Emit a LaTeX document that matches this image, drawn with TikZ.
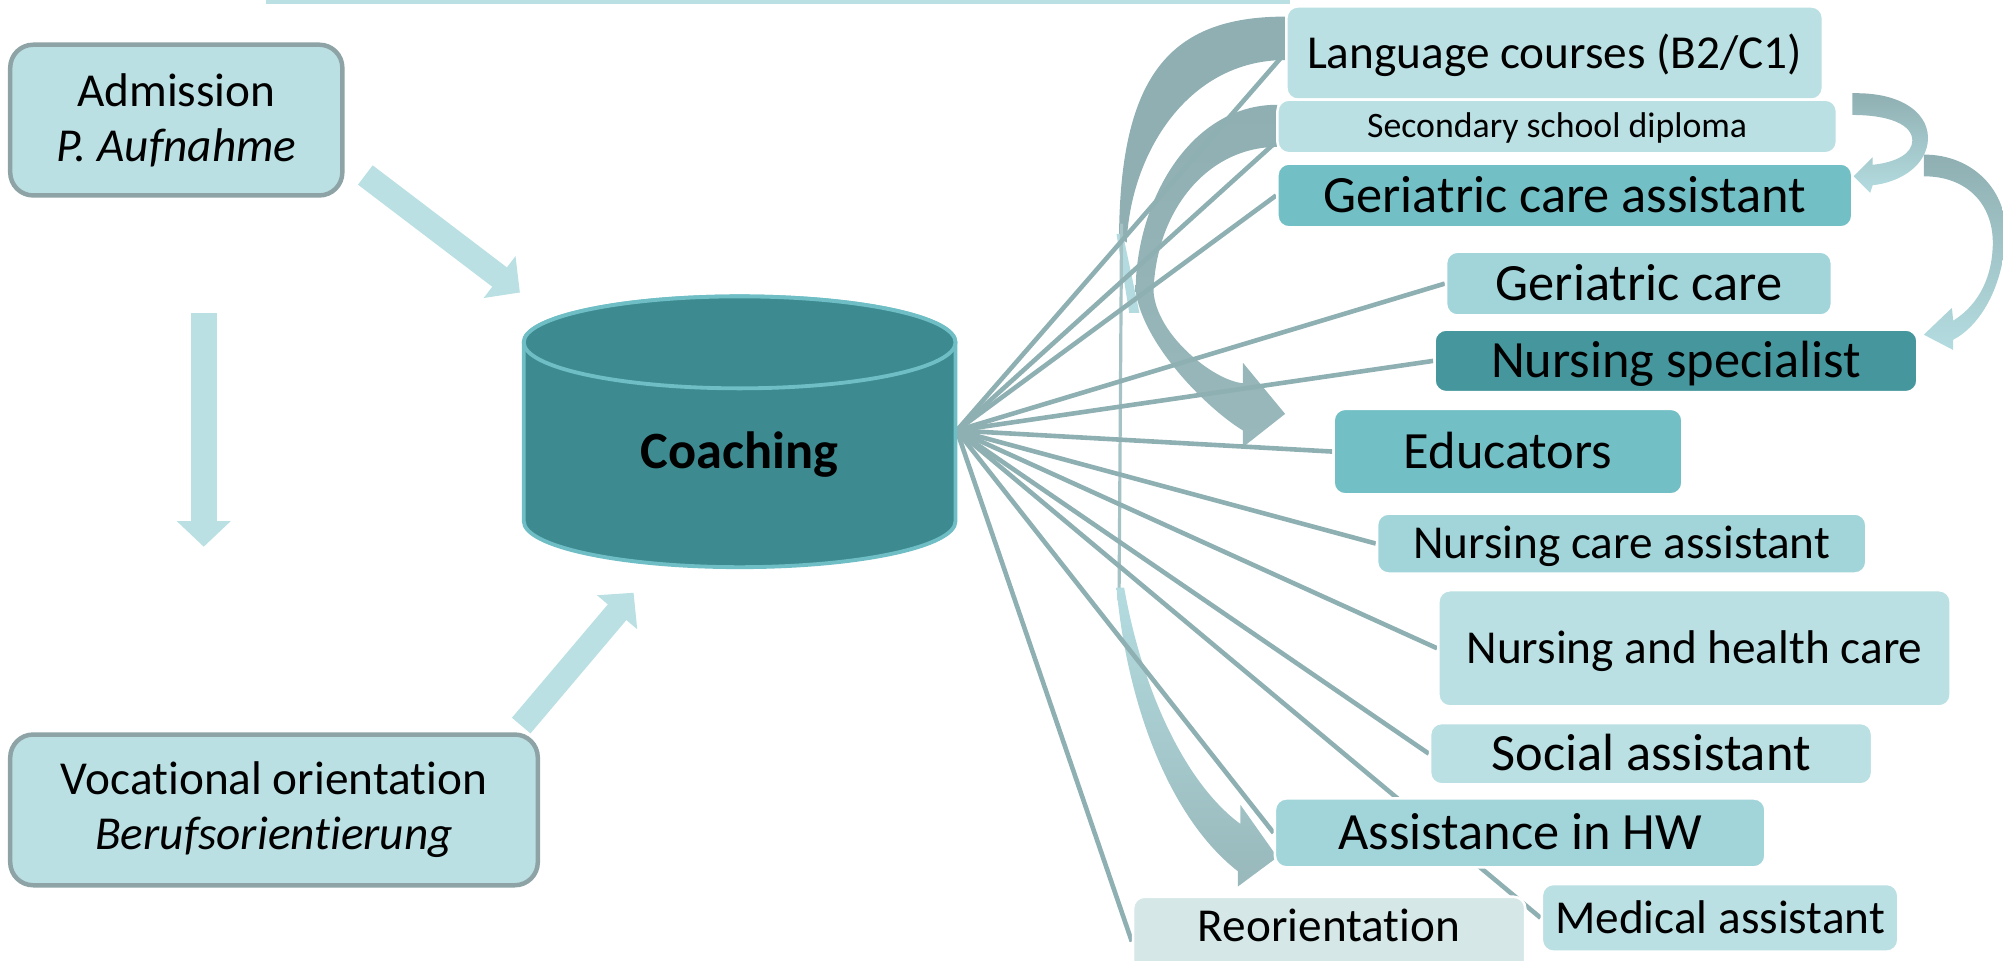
\documentclass[tikz,border=0pt]{standalone}
\usepackage{fontspec}
\setmainfont{Carlito}[Ligatures={NoCommon,NoContextual}]
\usetikzlibrary{arrows.meta,calc}
\definecolor{Lone}{HTML}{BAE0E3}
\definecolor{Ltwo}{HTML}{A2D5DA}
\definecolor{Midc}{HTML}{72BFC5}
\definecolor{Darkc}{HTML}{46979D}
\definecolor{Reoc}{HTML}{D5E7E6}
\definecolor{Cylf}{HTML}{3D8B91}
\definecolor{Cylb}{HTML}{6FBEC5}
\definecolor{Connc}{HTML}{8FB0B3}
\definecolor{Gbord}{HTML}{8DA3A5}
\definecolor{ArrD}{HTML}{8FAFB2}
\definecolor{ArrL}{HTML}{B4DCE0}
\definecolor{ArrG}{HTML}{98B8BB}
\definecolor{ArrT}{HTML}{A5C2C5}
\pgfdeclarelayer{bg}
\pgfdeclarelayer{mid}
\pgfsetlayers{bg,mid,main}
\begin{document}
\begin{tikzpicture}[x=1pt,y=-1pt,
  tbox/.style={rounded corners=9pt, draw=white, line width=2pt, inner sep=0pt, text depth=0pt},
  fa/.style={font=\fontsize{37}{44}\selectfont, text height=23.8pt},
  fb/.style={font=\fontsize{41}{48}\selectfont, text height=26.4pt},
  fs/.style={font=\fontsize{28}{34}\selectfont, text height=18pt},
  leftbox/.style={rounded corners=18pt, draw=Gbord, line width=3.5pt, fill=Lone, align=center,
    font=\fontsize{37}{43}\selectfont, inner sep=0pt},
  conn/.style={draw=Connc, line width=3.6pt},
  blk/.style={draw=Lone, line width=19pt, -{Triangle[length=20pt,width=40pt]}},
  cyl/.style={fill=Cylf, draw=Cylb, line width=3pt}
]
\useasboundingbox (0,0) rectangle (1568,752);

% top strip
\fill[Lone] (208,0) rectangle (1010,3);

% target boxes
\node[tbox,fa,fill=Lone,minimum width=420,minimum height=73] (lang) at (1217,41.5) {Language courses (B2/C1)};
\node[tbox,fs,fill=Lone,minimum width=438,minimum height=42] (sec) at (1219,99) {Secondary school diploma};
\node[tbox,fb,fill=Midc,minimum width=450,minimum height=50] (gca) at (1225,153) {Geriatric care assistant};
\node[tbox,fb,fill=Ltwo,minimum width=302,minimum height=50] (gc) at (1283,222) {Geriatric care};
\node[tbox,fb,fill=Darkc,minimum width=378,minimum height=49] (ns) at (1312,282.5) {Nursing specialist};
\node[tbox,fb,fill=Midc,minimum width=273,minimum height=67] (edu) at (1180.5,353.5) {Educators};
\node[tbox,fa,fill=Ltwo,minimum width=383,minimum height=47] (nca) at (1269.5,425.5) {Nursing care assistant};
\node[tbox,fa,fill=Lone,minimum width=401,minimum height=91] (nhc) at (1326.5,507.5) {Nursing and health care};
\node[tbox,fb,fill=Lone,minimum width=346,minimum height=48] (sa) at (1292.5,590) {Social assistant};
\node[tbox,fb,fill=Ltwo,minimum width=384,minimum height=54] (ahw) at (1190,652) {Assistance in HW};
\node[tbox,fa,fill=Reoc,minimum width=307,minimum height=70,text depth=23pt] (reo) at (1040.5,737) {Reorientation};
\node[tbox,fa,fill=Lone,minimum width=279,minimum height=53] (med) at (1346.5,718.5) {Medical assistant};

% curved arrows
\begin{pgfonlayer}{bg}
  % Language courses -> Assistance in HW
  \fill[ArrD] (1006,13) .. controls (915,13) and (877,60) .. (876,185) -- (882,190)
      .. controls (885,120) and (930,47) .. (1006,47) -- cycle;
  \fill[ArrL] (874,183) -- (879,183) -- (892,245) -- (884,245) -- cycle;
  \draw[ArrT, line width=2.5pt] (878,175) -- (876,470);
  \shade[top color=ArrL, bottom color=ArrG] (874,460) .. controls (882,550) and (915,640) .. (969,682)
      -- (969,694) -- (1000,671) -- (971,630) -- (971,645)
      .. controls (930,615) and (895,545) .. (880,460) -- cycle;
  % Secondary school diploma -> Educators
  \shade[top color=ArrD, middle color=ArrL, bottom color=ArrG]
      (1000,82) .. controls (930,82) and (889,160) .. (889,228)
      .. controls (895,270) and (945,320) .. (973,337)
      -- (973,350) -- (1006,324) -- (973,284) -- (973,300)
      .. controls (950,298) and (905,262) .. (903,228)
      .. controls (905,165) and (945,115) .. (1000,115) -- cycle;
  % Secondary school diploma -> Geriatric care assistant
  \shade[top color=ArrD, bottom color=ArrL]
      (1450,73) .. controls (1490,72) and (1512,90) .. (1509,112)
      .. controls (1506,132) and (1485,143) .. (1466,145)
      -- (1464,151) -- (1451,138) -- (1466,123) -- (1466,129)
      .. controls (1485,127) and (1497,120) .. (1497,110)
      .. controls (1497,98) and (1480,90) .. (1450,90) -- cycle;
  % Geriatric care assistant -> Nursing specialist
  \shade[top color=ArrD, bottom color=ArrL]
      (1506,121) .. controls (1545,121) and (1572,150) .. (1570,185)
      .. controls (1568,225) and (1550,255) .. (1529,266)
      -- (1529,274) -- (1506,262) -- (1528,241) -- (1529,251)
      .. controls (1550,238) and (1560,215) .. (1560,190)
      .. controls (1560,160) and (1540,138) .. (1506,138) -- cycle;
\end{pgfonlayer}

% connectors from Coaching
\coordinate (hub) at (749,337);
\begin{pgfonlayer}{mid}
  \foreach \t in {lang,gca,gc,ns,edu,nca,nhc,sa,ahw,reo,med}
    \draw[conn] (hub) -- (\t.west);
  \draw[conn] (hub) -- ($(sec.west)+(0,12)$);
\end{pgfonlayer}

% Coaching cylinder
\draw[cyl] (410,268) -- (410,408) arc[start angle=180, end angle=0, x radius=169, y radius=36]
  -- (748,268) arc[start angle=0, end angle=-180, x radius=169, y radius=36] -- cycle;
\draw[cyl] (579,268) ellipse[x radius=169, y radius=36];
\node[font=\bfseries\fontsize{41}{48}\selectfont, anchor=base, inner sep=0pt] (coach) at (579,367) {Coaching};

% left boxes
\node[leftbox, minimum width=260, minimum height=118] (adm) at (138,94) {Admission\\\textit{P. Aufnahme}};
\node[leftbox, minimum width=413, minimum height=118] (voc) at (214.5,634) {Vocational orientation\\\textit{Berufsorientierung}};

% block arrows
\coordinate (a1s) at (286,137);
\coordinate (a1e) at (407,229);
\coordinate (a2s) at (159.5,245);
\coordinate (a2e) at (159.5,428);
\coordinate (a3s) at (408,568);
\coordinate (a3e) at (496,464);
\draw[blk] (a1s) -- (a1e);
\draw[blk, line width=20pt, -{Triangle[length=20pt,width=41pt]}] (a2s) -- (a2e);
\draw[blk] (a3s) -- (a3e);
\end{tikzpicture}
\end{document}
